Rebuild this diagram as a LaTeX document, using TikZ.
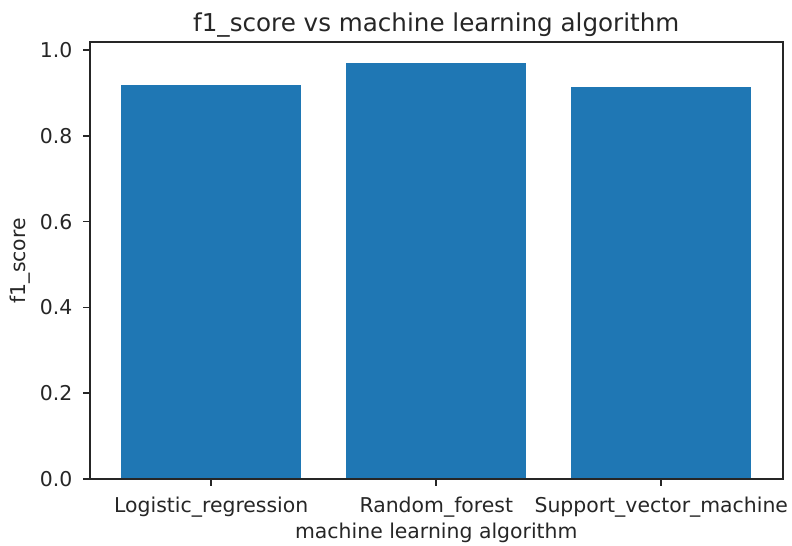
\documentclass[tikz,border=0pt]{standalone}
\usepackage{fontspec}
\setmainfont{DejaVu Sans}
\usepackage{xcolor}
\usepackage{tikz}
\definecolor{barra}{HTML}{1F77B4}
\definecolor{tinta}{HTML}{262626}

\begin{document}
\begin{tikzpicture}[x=112.5pt,y=214.5pt,
  eje/.style={draw=tinta,line width=0.8pt},
  marca/.style={draw=tinta,line width=0.8pt},
  barr/.style={fill=barra},
  etq/.style={font=\fontsize{10.2}{12}\selectfont,text=tinta,inner sep=0pt},
  titulo/.style={font=\fontsize{12.3}{14}\selectfont,text=tinta,inner sep=0pt}]
\useasboundingbox (-0.939,-0.156) rectangle (2.581,1.1166);
% barras
\fill[barr] (-0.4,0) rectangle (0.4,0.918);
\fill[barr] (0.6,0) rectangle (1.4,0.970);
\fill[barr] (1.6,0) rectangle (2.4,0.913);
% ejes
\draw[eje] (-0.54,0) rectangle (2.54,1.0185);
% marcas del eje y
\draw[marca] (-0.54,0) -- ++(-3.5pt,0);
\draw[marca] (-0.54,0.2) -- ++(-3.5pt,0);
\draw[marca] (-0.54,0.4) -- ++(-3.5pt,0);
\draw[marca] (-0.54,0.6) -- ++(-3.5pt,0);
\draw[marca] (-0.54,0.8) -- ++(-3.5pt,0);
\draw[marca] (-0.54,1.0) -- ++(-3.5pt,0);
\node[etq,anchor=east,xshift=-8.5pt] (y0) at (-0.54,0) {0.0};
\node[etq,anchor=east,xshift=-8.5pt] (y2) at (-0.54,0.2) {0.2};
\node[etq,anchor=east,xshift=-8.5pt] (y4) at (-0.54,0.4) {0.4};
\node[etq,anchor=east,xshift=-8.5pt] (y6) at (-0.54,0.6) {0.6};
\node[etq,anchor=east,xshift=-8.5pt] (y8) at (-0.54,0.8) {0.8};
\node[etq,anchor=east,xshift=-8.5pt] (y10) at (-0.54,1.0) {1.0};
% marcas del eje x
\draw[marca] (0,0) -- ++(0,-3.5pt);
\draw[marca] (1,0) -- ++(0,-3.5pt);
\draw[marca] (2,0) -- ++(0,-3.5pt);
\node[etq,anchor=base] (lr) at (0,-0.0769) {Logistic\_regression};
\node[etq,anchor=base] (rf) at (1,-0.0769) {Random\_forest};
\node[etq,anchor=base] (svm) at (2,-0.0769) {Support\_vector\_machine};
% rotulos
\node[etq,anchor=base] (xlab) at (1,-0.1375) {machine learning algorithm};
\node[etq,anchor=base,rotate=90] (ylab) at (-0.8236,0.509) {f1\_score};
\node[titulo,anchor=base] (tit) at (1,1.0443) {f1\_score vs machine learning algorithm};
\end{tikzpicture}
\end{document}
